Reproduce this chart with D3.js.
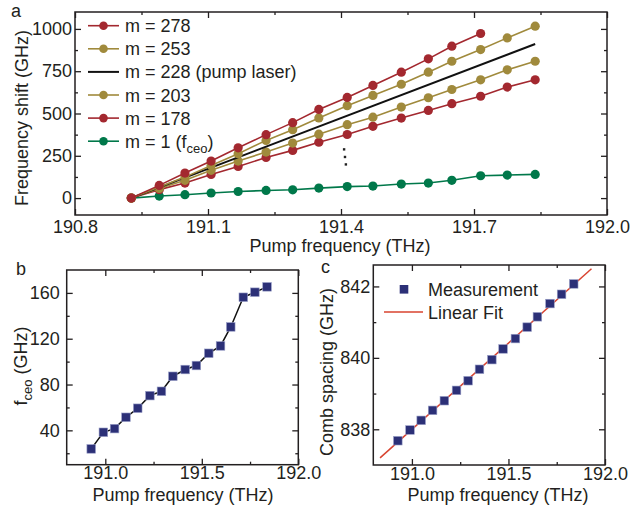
<!DOCTYPE html>
<html>
<head>
<meta charset="utf-8">
<script src="https://cdn.jsdelivr.net/npm/d3@7"></script>
<style>
  html, body { margin: 0; padding: 0; background: #fff; }
  svg { display: block; font-family: "Liberation Sans", Arial, sans-serif; }
  .tick text { font-size: 18px; fill: #231f20; }
</style>
</head>
<body>
<svg id="chart" width="633" height="510"></svg>
<script>
// Data
const pumpTHz = [190.927, 190.990, 191.048, 191.107, 191.168, 191.231, 191.291, 191.350,
                 191.414, 191.472, 191.536, 191.597, 191.650, 191.715, 191.775, 191.838];
const shiftM278 = [0, 75, 148, 219, 297, 375, 446, 524, 595, 666, 744, 823, 898, 973];
const shiftM253 = [0, 65, 124, 193, 262, 341, 404, 474, 546, 607, 673, 744, 809, 878, 947, 1016];
const pumpEndsTHz = [190.927, 191.838];
const shiftM228 = [0, 911];
const shiftM203 = [0, 57, 105, 164, 219, 272, 325, 378, 434, 478, 538, 593, 642, 699, 758, 809];
const shiftM178 = [0, 50, 89, 140, 187, 240, 282, 330, 376, 424, 473, 518, 558, 602, 656, 699];
const shiftM1 = [0, 12, 20, 30, 39, 45, 49, 59, 68, 71, 83, 89, 105, 132, 136, 140];
const fceoGHz = [23.8, 38.3, 41.5, 51.4, 59.3, 70.3, 74.1, 87.2, 93.1, 96.6, 107.3, 113.7,
                 130.3, 156.2, 160.6, 165.3];
const combSpacingGHz = [837.68, 837.98, 838.25, 838.53, 838.80, 839.09, 839.36, 839.68,
                        839.95, 840.25, 840.54, 840.86, 841.15, 841.52, 841.78, 842.07];
const fitRangeTHz = [190.835, 191.93];
// the vertical ellipsis between the m=178 and m=1 curves
const ellipsisTHz = [191.407, 191.409, 191.411];
const ellipsisGHz = [288, 243, 199];

const ticksA_x = [190.8, 191.1, 191.4, 191.7, 192.0];
const minorA_x = [190.95, 191.25, 191.55, 191.85];
const ticksA_y = [0, 250, 500, 750, 1000];
const minorA_y = [125, 375, 625, 875];
const ticksBC_x = [191.0, 191.5, 192.0];
const minorBC_x = [191.25, 191.75];
const ticksB_y = [40, 80, 120, 160];
const minorB_y = [20, 60, 100, 140];
const ticksC_y = [838, 840, 842];
const minorC_y = [839, 841];

const RED = '#a3282f', GOLD = '#a08a3c', GREEN = '#00784a', NAVY = '#2c3077', FIT = '#d8432f';
const INK = '#231f20';

const seriesA = [
  { label: 'm = 278', x: pumpTHz.slice(0, shiftM278.length), y: shiftM278, color: RED, dots: true },
  { label: 'm = 253', x: pumpTHz, y: shiftM253, color: GOLD, dots: true },
  { label: 'm = 228 (pump laser)', x: pumpEndsTHz, y: shiftM228, color: '#111', dots: false },
  { label: 'm = 203', x: pumpTHz, y: shiftM203, color: GOLD, dots: true },
  { label: 'm = 178', x: pumpTHz, y: shiftM178, color: RED, dots: true },
  { label: 'm = 1 (f', sub: 'ceo', tail: ')', x: pumpTHz, y: shiftM1, color: GREEN, dots: true }
];

const svg = d3.select('#chart');

// frame + inward ticks on all four sides
function frame(g, x, y, xMajor, xMinor, yMajor, yMinor, yPad, xPad) {
  const [x0, x1] = x.range(), [y1, y0] = y.range();
  const w = x1 - x0, h = y1 - y0;
  const fmt = d3.format('.1f');
  const axes = [
    [d3.axisBottom(x).tickValues(xMajor).tickFormat(fmt).tickPadding(xPad), `translate(0,${y1})`, 6],
    [d3.axisBottom(x).tickValues(xMinor).tickFormat(''), `translate(0,${y1})`, 3],
    [d3.axisTop(x).tickValues(xMajor).tickFormat(''), `translate(0,${y0})`, 6],
    [d3.axisTop(x).tickValues(xMinor).tickFormat(''), `translate(0,${y0})`, 3],
    [d3.axisLeft(y).tickValues(yMajor).tickFormat(d3.format('d')).tickPadding(yPad), `translate(${x0},0)`, 6],
    [d3.axisLeft(y).tickValues(yMinor).tickFormat(''), `translate(${x0},0)`, 3],
    [d3.axisRight(y).tickValues(yMajor).tickFormat(''), `translate(${x1},0)`, 6],
    [d3.axisRight(y).tickValues(yMinor).tickFormat(''), `translate(${x1},0)`, 3]
  ];
  axes.forEach(([ax, tr, len]) => {
    const a = g.append('g').attr('transform', tr)
      .call(ax.tickSizeInner(-len).tickSizeOuter(0));
    a.select('.domain').remove();
    a.selectAll('line').attr('stroke', INK).attr('stroke-width', 1.3);
    a.selectAll('text').attr('font-family', null);
  });
  g.append('rect')
    .attr('x', x0).attr('y', y0).attr('width', w).attr('height', h)
    .attr('fill', 'none').attr('stroke', INK).attr('stroke-width', 1.5);
}

function title(g, x, y, rotate) {
  return g.append('text')
    .attr('transform', rotate ? `translate(${x},${y}) rotate(-90)` : `translate(${x},${y})`)
    .attr('text-anchor', 'middle')
    .attr('font-size', 18)
    .attr('fill', INK);
}

// ---------- panel a ----------
const ga = svg.append('g');
const xa = d3.scaleLinear().domain([190.8, 192.0]).range([75, 607]);
const ya = d3.scaleLinear().domain([-100, 1100]).range([215, 12]);
frame(ga, xa, ya, ticksA_x, minorA_x, ticksA_y, minorA_y, 3, 5);

const lineA = d3.line().x(d => xa(d[0])).y(d => ya(d[1]));
// draw bottom-most series first so red top curve sits above
seriesA.slice().reverse().forEach(s => {
  const pts = s.x.map((v, i) => [v, s.y[i]]);
  ga.append('path').datum(pts)
    .attr('d', lineA).attr('fill', 'none')
    .attr('stroke', s.color).attr('stroke-width', s.dots ? 1.6 : 2);
  if (s.dots) {
    ga.append('g').selectAll('circle').data(pts).enter().append('circle')
      .attr('cx', d => xa(d[0])).attr('cy', d => ya(d[1])).attr('r', 4.6)
      .attr('fill', s.color);
  }
});

ga.append('g').selectAll('rect').data(ellipsisTHz).enter().append('rect')
  .attr('x', (d, i) => xa(d) - 1.2).attr('y', (d, i) => ya(ellipsisGHz[i]) - 1.2)
  .attr('width', 2.4).attr('height', 2.4).attr('fill', '#222');

// legend a
const legA = ga.append('g');
seriesA.forEach((s, i) => {
  const yy = 25.7 + i * 23.1;
  legA.append('line').attr('x1', 88).attr('x2', 119).attr('y1', yy).attr('y2', yy)
    .attr('stroke', s.color).attr('stroke-width', s.dots ? 1.6 : 2);
  if (s.dots) {
    legA.append('circle').attr('cx', 103.5).attr('cy', yy).attr('r', 4.3).attr('fill', s.color);
  }
  const t = legA.append('text').attr('x', 125).attr('y', yy + 6.5)
    .attr('font-size', 18).attr('fill', INK).text(s.label);
  if (s.sub) {
    t.append('tspan').attr('font-size', 13).attr('dy', 5).text(s.sub);
    t.append('tspan').attr('dy', -5).text(s.tail);
  }
});

title(ga, 340, 252, false).text('Pump frequency (THz)');
title(ga, 28, 118, true).text('Frequency shift (GHz)');
ga.append('text').attr('x', 11).attr('y', 17).attr('font-size', 18).attr('fill', INK).text('a');

// ---------- panel b ----------
const gb = svg.append('g');
const xb = d3.scaleLinear().domain([190.8, 192.0]).range([66.7, 298.3]);
const yb = d3.scaleLinear().domain([10, 180]).range([464.7, 270]);
frame(gb, xb, yb, ticksBC_x, minorBC_x, ticksB_y, minorB_y, 7, 2);

const ptsB = pumpTHz.map((v, i) => [v, fceoGHz[i]]);
gb.append('path').datum(ptsB)
  .attr('d', d3.line().x(d => xb(d[0])).y(d => yb(d[1])))
  .attr('fill', 'none').attr('stroke', '#111').attr('stroke-width', 1.5);
gb.append('g').selectAll('rect').data(ptsB).enter().append('rect')
  .attr('x', d => xb(d[0]) - 4.3).attr('y', d => yb(d[1]) - 4.3)
  .attr('width', 8.6).attr('height', 8.6)
  .attr('fill', NAVY).attr('stroke', '#9aa0c8').attr('stroke-width', 0.6);

title(gb, 183, 501, false).text('Pump frequency (THz)');
const tb = title(gb, 27, 366, true);
tb.append('tspan').text('f');
tb.append('tspan').attr('font-size', 13).attr('dy', 5).text('ceo');
tb.append('tspan').attr('dy', -5).text(' (GHz)');
gb.append('text').attr('x', 16).attr('y', 275).attr('font-size', 18).attr('fill', INK).text('b');

// ---------- panel c ----------
const gc = svg.append('g');
const xc = d3.scaleLinear().domain([190.8, 192.0]).range([373.3, 605]);
const yc = d3.scaleLinear().domain([837, 842.6]).range([465, 265]);
frame(gc, xc, yc, ticksBC_x, minorBC_x, ticksC_y, minorC_y, 3, 2);

// least-squares linear fit of the measurement
const mx = d3.mean(pumpTHz), my = d3.mean(combSpacingGHz);
const slope = d3.sum(pumpTHz, (v, i) => (v - mx) * (combSpacingGHz[i] - my)) /
              d3.sum(pumpTHz, v => (v - mx) * (v - mx));
const fitPts = fitRangeTHz.map(v => [v, my + slope * (v - mx)]);
gc.append('path').datum(fitPts)
  .attr('d', d3.line().x(d => xc(d[0])).y(d => yc(d[1])))
  .attr('fill', 'none').attr('stroke', FIT).attr('stroke-width', 1.5);

const ptsC = pumpTHz.map((v, i) => [v, combSpacingGHz[i]]);
gc.append('g').selectAll('rect').data(ptsC).enter().append('rect')
  .attr('x', d => xc(d[0]) - 4.3).attr('y', d => yc(d[1]) - 4.3)
  .attr('width', 8.6).attr('height', 8.6)
  .attr('fill', NAVY).attr('stroke', '#9aa0c8').attr('stroke-width', 0.6);

// legend c
gc.append('rect').attr('x', 399.7).attr('y', 285).attr('width', 8.6).attr('height', 8.6).attr('fill', NAVY);
gc.append('text').attr('x', 428).attr('y', 295.5).attr('font-size', 18).attr('fill', INK).text('Measurement');
gc.append('line').attr('x1', 384).attr('x2', 423).attr('y1', 312).attr('y2', 312)
  .attr('stroke', FIT).attr('stroke-width', 1.5);
gc.append('text').attr('x', 428).attr('y', 318.5).attr('font-size', 18).attr('fill', INK).text('Linear Fit');

title(gc, 498, 501, false).text('Pump frequency (THz)');
title(gc, 333, 372, true).text('Comb spacing (GHz)');
gc.append('text').attr('x', 321).attr('y', 273).attr('font-size', 18).attr('fill', INK).text('c');
</script>
</body>
</html>
